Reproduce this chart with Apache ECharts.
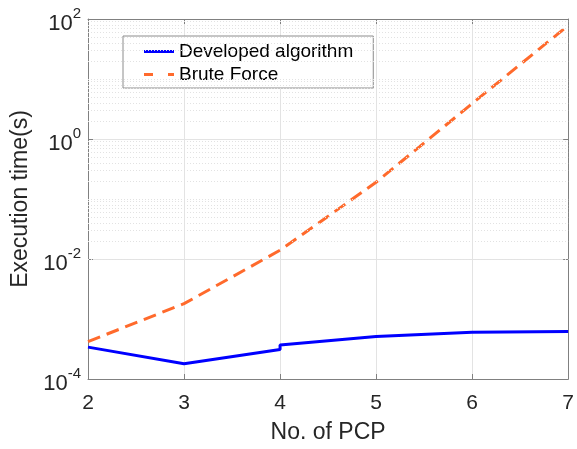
<!DOCTYPE html>
<html>
<head>
<meta charset="utf-8">
<script src="https://cdn.jsdelivr.net/npm/echarts@6/dist/echarts.min.js"></script>
<style>
  html, body { margin: 0; padding: 0; background: #fff; }
  #chart { width: 577px; height: 449px; }
</style>
</head>
<body>
<div id="chart"></div>
<script>
// values
const pcpDev = [2, 3, 4, 4, 5, 6, 7];
const devTime = [3.4e-4, 1.8e-4, 3.1e-4, 3.7e-4, 5.1e-4, 6.0e-4, 6.2e-4];
const pcpBrute = [2, 3, 4, 5, 6, 7];
const bruteTime = [4.2e-4, 1.8e-3, 1.4e-2, 1.9e-1, 3.9, 78];

// dotted minor grid: every 1..9 x 10^k that is not a labelled decade
const minorGrid = [];
for (let k = -4; k < 2; k++) {
    for (let m = 1; m <= 9; m++) {
        if (m === 1 && k % 2 === 0) continue;
        minorGrid.push(m * Math.pow(10, k));
    }
}

const font = "'Liberation Sans', Arial, Helvetica, sans-serif";
const txt = '#262626';
const axisGray = '#808080';

function pairs(xs, ys) {
    return xs.map((x, i) => [x, ys[i]]);
}

const chart = echarts.init(document.getElementById('chart'));
const option = {
    backgroundColor: '#fff',
    animation: false,
    grid: { left: 88, top: 19, right: 4, bottom: 68 },
    legend: {
        orient: 'vertical',
        left: 123,
        top: 36,
        padding: [6, 20, 4, 21],
        itemGap: 4,
        itemWidth: 30,
        itemHeight: 3,
        borderColor: '#8c8c8c',
        borderWidth: 1,
        borderRadius: 0,
        backgroundColor: '#fff',
        textStyle: { fontFamily: font, fontSize: 19, color: '#000', lineHeight: 19 },
        data: [
            { name: 'Developed algorithm', icon: 'path://M0,0H30V3H0Z' },
            { name: 'Brute Force', icon: 'path://M0,0H9V3H0Z M24,0H30V3H24Z' }
        ]
    },
    xAxis: [{
        type: 'value',
        min: 2,
        max: 7,
        interval: 1,
        name: 'No. of PCP',
        nameLocation: 'middle',
        nameGap: 42,
        nameTextStyle: { fontFamily: font, fontSize: 23, color: txt },
        axisLine: { lineStyle: { color: axisGray, width: 1 } },
        axisTick: { inside: true, length: 5, lineStyle: { color: axisGray } },
        axisLabel: { fontFamily: font, fontSize: 21, color: txt, margin: 14 },
        splitLine: { show: true, lineStyle: { color: '#e3e3e3', width: 1 } }
    }, {
        type: 'value',
        position: 'top',
        min: 2,
        max: 7,
        interval: 1,
        axisLine: { show: true, lineStyle: { color: axisGray, width: 1 } },
        axisTick: { show: true, inside: true, length: 5, lineStyle: { color: axisGray } },
        axisLabel: { show: false },
        splitLine: { show: false }
    }],
    yAxis: [{
        type: 'log',
        logBase: 10,
        min: 1e-4,
        max: 1e2,
        interval: 2,
        name: 'Execution time(s)',
        nameLocation: 'middle',
        nameGap: 55,
        nameTextStyle: { fontFamily: font, fontSize: 23, color: txt },
        axisLine: { show: true, lineStyle: { color: axisGray, width: 1 } },
        axisTick: { show: true, inside: true, length: 5, lineStyle: { color: axisGray } },
        axisLabel: {
            margin: 7,
            formatter: v => '{b|10}{s|' + Math.round(Math.log10(v)) + '}',
            rich: {
                b: { fontFamily: font, fontSize: 22, color: txt, padding: [10, 0, 0, 0] },
                s: { fontFamily: font, fontSize: 15, color: txt, padding: [0, 0, 10, 0] }
            }
        },
        splitLine: { show: true, lineStyle: { color: '#e3e3e3', width: 1 } }
    }, {
        type: 'log',
        logBase: 10,
        min: 1e-4,
        max: 1e2,
        interval: 2,
        position: 'right',
        axisLine: { show: true, lineStyle: { color: axisGray, width: 1 } },
        axisTick: { show: true, inside: true, length: 5, lineStyle: { color: axisGray } },
        axisLabel: { show: false },
        splitLine: { show: false }
    }],
    series: [{
        name: 'Developed algorithm',
        type: 'line',
        data: pairs(pcpDev, devTime),
        symbol: 'none',
        color: '#0000ff',
        lineStyle: { color: '#0000ff', width: 3 },
        z: 5
    }, {
        name: 'Brute Force',
        type: 'line',
        data: pairs(pcpBrute, bruteTime),
        symbol: 'none',
        color: '#ff6a2c',
        lineStyle: { color: '#ff6a2c', width: 3, type: [13, 7] },
        z: 4,
        markLine: {
            silent: true,
            symbol: 'none',
            label: { show: false },
            lineStyle: { color: '#e2e2e2', width: 1, type: [1, 2] },
            emphasis: { disabled: true },
            data: minorGrid.map(v => ({ yAxis: v }))
        }
    }]
};
chart.setOption(option);
</script>
</body>
</html>
